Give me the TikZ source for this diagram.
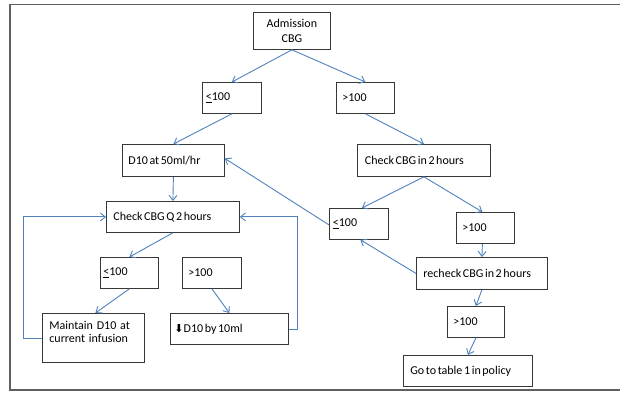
\documentclass[tikz,border=0pt]{standalone}
\usepackage{fontspec}
\setmainfont{Carlito}[WordSpace=0.6]
\newfontfamily\mntface{Carlito}[WordSpace=1.4]
\newfontfamily\djv{DejaVu Sans}
\usetikzlibrary{arrows.meta,calc}
\definecolor{conn}{RGB}{79,129,189}
\definecolor{boxline}{RGB}{55,55,55}
\definecolor{framegray}{RGB}{95,95,95}
\begin{document}
\begin{tikzpicture}[x=1pt,y=-1pt,
  box/.style={draw=boxline, line width=0.8pt, anchor=north west, align=flush left,
    inner xsep=6pt, inner ysep=1pt, font=\fontsize{12}{14}\selectfont},
  arr/.style={draw=conn, line width=0.9pt, -{Straight Barb[length=5pt,width=8pt]}}
]
\useasboundingbox (0,0) rectangle (620,392);
\draw[framegray, line width=1.3pt] (620,4.5) -- (10,4.5) -- (10,390) -- (620,390);

\node[box, align=flush center, text width=65pt, minimum height=37pt, font=\fontsize{12}{15}\selectfont] (adm) at (253,12) {Admission\\CBG};
\node[box, inner xsep=3.5pt, text width=52pt, minimum height=31pt] (le1) at (202,82) {\underline{<}100};
\node[box, text width=46pt, minimum height=31pt] (gt1) at (336,82) {>100};
\node[box, text width=90pt, minimum height=32pt] (d10) at (122,144) {D10 at 50ml/hr};
\node[box, inner xsep=7.5pt, text width=118pt, minimum height=32pt] (chk) at (357,144) {Check CBG in 2 hours};
\node[box, inner xsep=7pt, text width=119pt, minimum height=31pt] (cq) at (106,201) {Check CBG Q 2 hours};
\node[box, inner xsep=3pt, text width=52pt, minimum height=31pt] (le2) at (100,257) {\underline{<}100};
\node[box, text width=47pt, minimum height=31pt] (gt2) at (182,257) {>100};
\node[box, inner xsep=7pt, text width=88pt, minimum height=49pt, font=\mntface\fontsize{12}{12.5}\selectfont] (mnt) at (42,313) {Maintain D10 at\\current infusion\\\mbox{}};
\node[box, inner xsep=4pt, text width=110pt, minimum height=31pt] (dec) at (170,313) {{\djv\fontsize{11}{12}\selectfont ⬇}D10 by 10ml};
\node[box, inner xsep=3.5pt, text width=52pt, minimum height=31pt] (le3) at (329,208) {\underline{<}100};
\node[box, text width=46pt, minimum height=31pt] (gt3) at (456,212) {>100};
\node[box, inner xsep=7pt, text width=117pt, minimum height=32pt] (rchk) at (416,257) {recheck CBG in 2 hours};
\node[box, text width=45pt, minimum height=31pt] (gt4) at (447,306) {>100};
\node[box, inner xsep=7pt, text width=115pt, minimum height=31pt] (goto) at (403,355) {Go to table 1 in policy};

\draw[arr] (adm.south) -- (le1.north);
\draw[arr] (adm.south) -- (gt1.north);
\draw[arr] (le1.south) -- (d10.north);
\draw[arr] (gt1.south) -- (chk.north);
\draw[arr] (d10.south) -- (cq.north);
\draw[arr] (chk.south) -- ([xshift=3pt]le3.north);
\draw[arr] (chk.south) -- ([xshift=-3pt]gt3.north);
\draw[arr] ([yshift=-1pt]le3.west) -- ([yshift=2pt]d10.east);
\draw[arr] ([xshift=-3pt]gt3.south) -- (rchk.north);
\draw[arr] (rchk.west) -- ([xshift=1.5pt]le3.south);
\draw[arr] (rchk.south) -- (gt4.north);
\draw[arr] (gt4.south) -- (goto.north);
\draw[arr] (cq.south) -- (le2.north);
\draw[arr] (le2.south) -- ([xshift=2pt]mnt.north);
\draw[arr] (gt2.south) -- (dec.north);
\draw[arr] ([yshift=-1pt]mnt.west) -- ++(-19,0) |- (cq.west);
\draw[arr] ([yshift=-1pt]dec.east) -- ++(9,0) |- (cq.east);
\end{tikzpicture}
\end{document}
